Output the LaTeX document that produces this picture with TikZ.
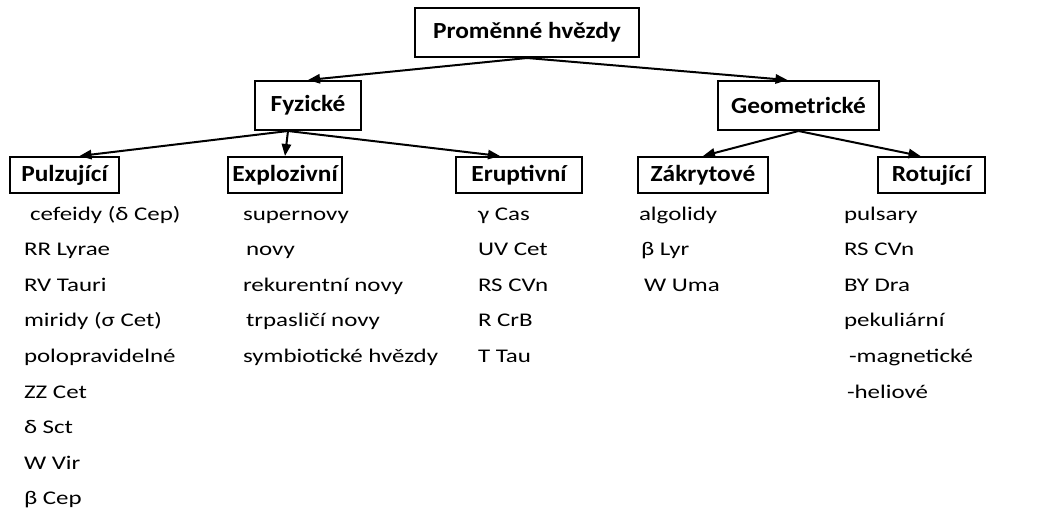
\documentclass[tikz,border=0pt]{standalone}
\usepackage{fontspec}
\newfontfamily\boxfont{Carlito}[FakeStretch=1.1]
\newfontfamily\itemfont{Carlito}[FakeStretch=1.29]
\usetikzlibrary{arrows.meta,calc}

\tikzset{every picture/.style={line width=1.5pt}}
\tikzset{
  classbox/.style={draw, line width=1.5pt, inner sep=0pt, font=\boxfont\bfseries\fontsize{17.3}{20}\selectfont},
  itemtext/.style={anchor=base west, inner sep=0pt, font=\itemfont\fontsize{14.5}{17}\selectfont},
  tree/.style={-{Triangle[length=9pt,width=7pt]}, line width=1.5pt}
}

\begin{document}
\begin{tikzpicture}[x=0.75pt,y=0.75pt,yscale=-1,xscale=1]
\useasboundingbox (0,0) rectangle (1042,514);

% Boxes
\node [classbox, minimum width=224*0.75pt, minimum height=49*0.75pt] (hvezdy) at (527,32.5) {Proměnné hvězdy};
\node [classbox, minimum width=106*0.75pt, minimum height=49*0.75pt] (fyz) at (308,105.5) {Fyzické};
\node [classbox, minimum width=161*0.75pt, minimum height=49*0.75pt] (geo) at (798.5,105.5) {Geometrické};
\node [classbox, minimum width=109*0.75pt, minimum height=36*0.75pt] (pulz) at (64.5,175) {Pulzující};
\node [classbox, minimum width=114*0.75pt, minimum height=36*0.75pt] (expl) at (285,175) {Explozivní};
\node [classbox, minimum width=126*0.75pt, minimum height=36*0.75pt] (erup) at (519,175) {Eruptivní};
\node [classbox, minimum width=130*0.75pt, minimum height=36*0.75pt] (zakr) at (703,175) {Zákrytové};
\node [classbox, minimum width=107*0.75pt, minimum height=36*0.75pt] (rot) at (931.5,175) {Rotující};

% Arrows
\draw [tree] (hvezdy.south) -- (fyz.north);
\draw [tree] (hvezdy.south) -- ($(geo.north)+(-11,0)$);
\draw [tree] ($(fyz.south)+(-20,0)$) -- ($(pulz.north)+(15,0)$);
\draw [tree] ($(fyz.south)+(-20,0)$) -- (expl.north);
\draw [tree] ($(fyz.south)+(-20,0)$) -- ($(erup.north)+(-19,0)$);
\draw [tree] (geo.south) -- (zakr.north);
\draw [tree] (geo.south) -- ($(rot.north)+(-11,0)$);

% Text Nodes
\foreach \dx/\t [count=\i] in {6/cefeidy (δ Cep), 0/RR Lyrae, 0/RV Tauri, 0/miridy (σ Cet), 0/polopravidelné, 0/ZZ Cet, 0/δ Sct, 0/W Vir, 0/β Cep}
  \node [itemtext] (pulz\i) at (23+\dx,220+35.6*\i-35.6) {\t};
\foreach \dx/\t [count=\i] in {0/supernovy, 3/novy, 0/rekurentní novy, 3/trpasličí novy, 0/symbiotické hvězdy}
  \node [itemtext] (expl\i) at (242+\dx,220+35.6*\i-35.6) {\t};
\foreach \dx/\t [count=\i] in {0/γ Cas, 0/UV Cet, 0/RS CVn, 0/R CrB, 0/T Tau}
  \node [itemtext] (erup\i) at (477+\dx,220+35.6*\i-35.6) {\t};
\foreach \dx/\t [count=\i] in {0/algolidy, 2/β Lyr, 5/W Uma}
  \node [itemtext] (zakr\i) at (638+\dx,220+35.6*\i-35.6) {\t};
\foreach \dx/\t [count=\i] in {0/pulsary, 0/RS CVn, 0/BY Dra, 0/pekuliární, 5/-magnetické, 3/-heliové}
  \node [itemtext] (rot\i) at (843+\dx,220+35.6*\i-35.6) {\t};

\end{tikzpicture}
\end{document}
